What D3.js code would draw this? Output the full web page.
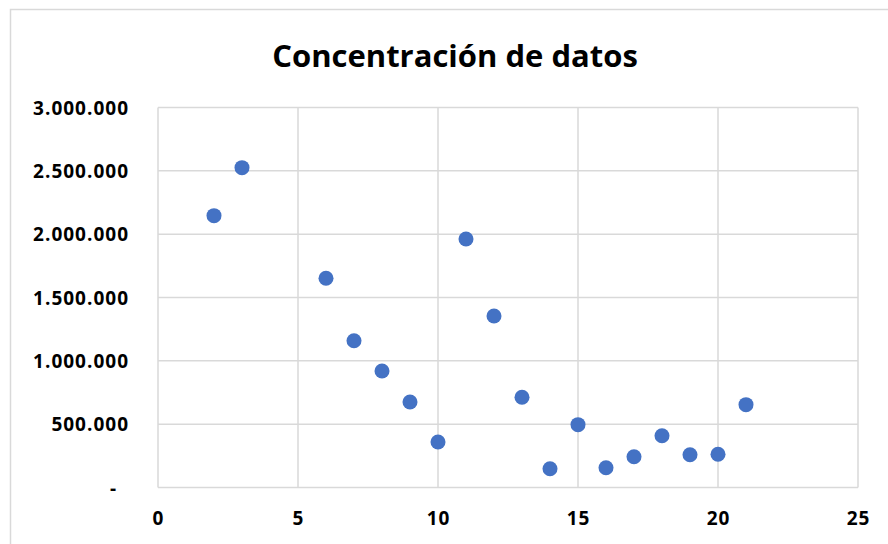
<!DOCTYPE html>
<html>
<head>
<meta charset="utf-8">
<script src="https://cdn.jsdelivr.net/npm/d3@7"></script>
<style>
  body { margin: 0; background: #fff; }
  svg { display: block; }
  text { font-family: "Open Sans", "Liberation Sans", sans-serif; font-weight: bold; fill: #000; }
</style>
</head>
<body>
<div id="chart"></div>
<script>

/*
*       Data
*/

// Chart title
var chartTitle = 'Concentración de datos';

// x values of each point
var xValues = [2, 3, 6, 7, 8, 9, 10, 11, 12, 13, 14, 15, 16, 17, 18, 19, 20, 21];

// y values of each point
var yValues = [2146000, 2525000, 1652000, 1159000, 920000, 675000, 359000, 1962000, 1354000,
               712000, 148000, 496000, 156000, 243000, 409000, 259000, 262000, 654000];

// Tick values for both axes
var xTicks = [0, 5, 10, 15, 20, 25];
var yTicks = [0, 500000, 1000000, 1500000, 2000000, 2500000, 3000000];

/*
*       Layout
*/

var width = 888, height = 544;
var margin = { top: 108, right: 30, bottom: 56, left: 158 };

var svg = d3.select('#chart').append('svg')
    .attr('width', width)
    .attr('height', height);

// Outer chart border (runs off the right and bottom edges)
svg.append('rect')
    .attr('x', 10.5)
    .attr('y', 9.5)
    .attr('width', width)
    .attr('height', height)
    .attr('fill', 'none')
    .attr('stroke', '#d9d9d9')
    .attr('stroke-width', 1.5);

// Scales
var x = d3.scaleLinear().domain([0, 25]).range([margin.left, width - margin.right]);
var y = d3.scaleLinear().domain([0, 3000000]).range([height - margin.bottom - 0.5, margin.top - 0.5]);

// Number format with dots as thousands separators, zero as a dash
var es = d3.formatLocale({ decimal: ',', thousands: '.', grouping: [3], currency: ['', ''] });
var fmt = es.format(',d');
function yLabel(d){
    return d === 0 ? '-' : fmt(d);
}

// Gridlines
var grid = svg.append('g').attr('class', 'grid');

grid.selectAll('line.h')
    .data(yTicks)
  .enter().append('line')
    .attr('class', 'h')
    .attr('x1', x(0)).attr('x2', x(25))
    .attr('y1', function(d){ return y(d); })
    .attr('y2', function(d){ return y(d); })
    .attr('stroke', '#d9d9d9')
    .attr('stroke-width', 1.5);

grid.selectAll('line.v')
    .data(xTicks)
  .enter().append('line')
    .attr('class', 'v')
    .attr('y1', y(0)).attr('y2', y(3000000))
    .attr('x1', function(d){ return x(d); })
    .attr('x2', function(d){ return x(d); })
    .attr('stroke', '#d9d9d9')
    .attr('stroke-width', 1.5);

// Axes, labels only
var yAxis = svg.append('g')
    .attr('transform', 'translate(' + (x(0) - 29) + ',0)')
    .call(d3.axisLeft(y).tickValues(yTicks).tickFormat(yLabel).tickSize(0).tickPadding(0));

yAxis.select('.domain').remove();
yAxis.selectAll('text')
    .attr('font-size', 19)
    .attr('font-family', null)
    .attr('letter-spacing', 1)
    .attr('dy', '0.35em')
    .attr('dx', function(d){ return d === 0 ? -12 : 0; });

var xAxis = svg.append('g')
    .attr('transform', 'translate(0,' + (y(0) + 24) + ')')
    .call(d3.axisBottom(x).tickValues(xTicks).tickFormat(d3.format('d')).tickSize(0).tickPadding(0));

xAxis.select('.domain').remove();
xAxis.selectAll('text')
    .attr('font-size', 19)
    .attr('font-family', null)
    .attr('letter-spacing', 1);

// Points
svg.append('g')
    .selectAll('circle')
    .data(xValues)
  .enter().append('circle')
    .attr('cx', function(d){ return x(d); })
    .attr('cy', function(d, i){ return y(yValues[i]); })
    .attr('r', 7.5)
    .attr('fill', '#4472c4');

// Title
svg.append('text')
    .attr('x', 455)
    .attr('y', 67)
    .attr('text-anchor', 'middle')
    .attr('font-size', 31)
    .text(chartTitle);

</script>
</body>
</html>
